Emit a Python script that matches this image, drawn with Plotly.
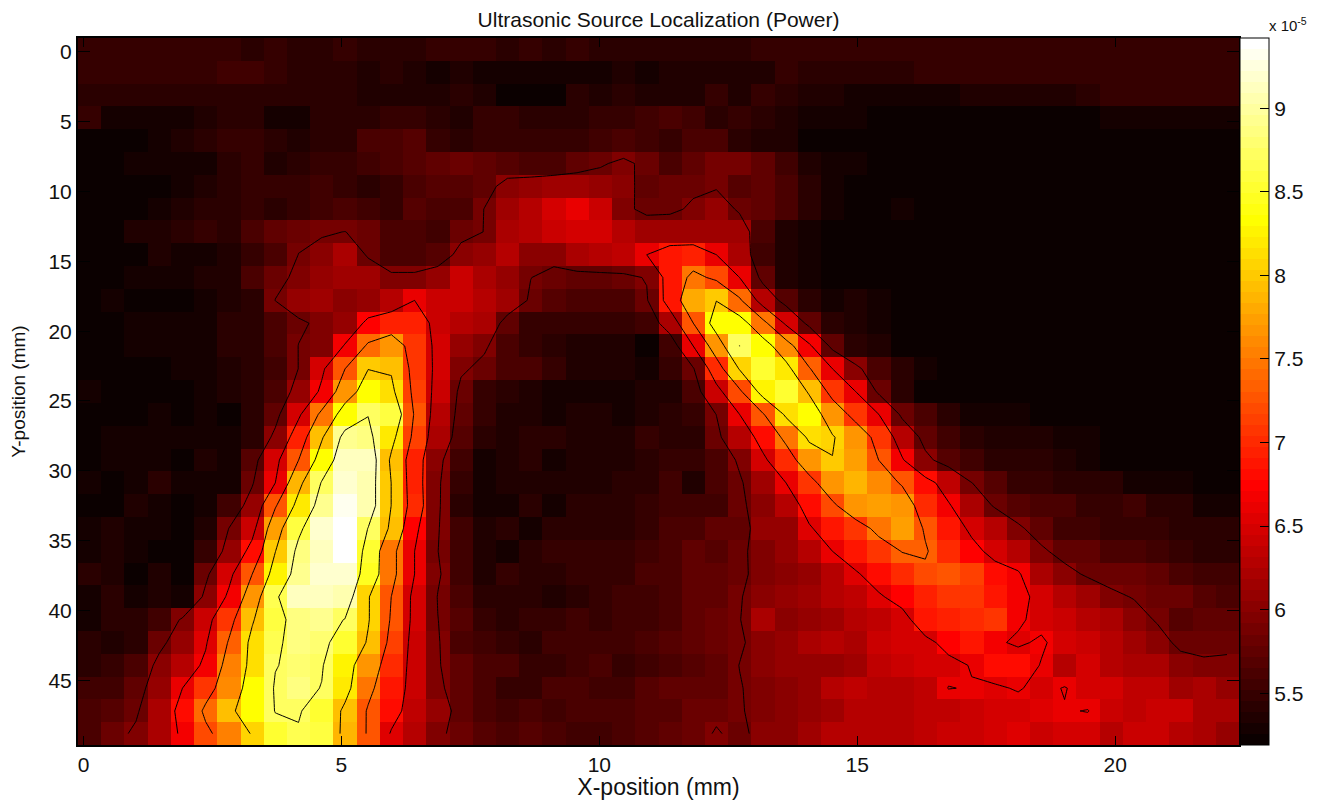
import plotly.graph_objects as go

# Power, in units of 0.01 x 10^-5, one list per row of the scan (top to bottom)
r00 = [549,549,549,552,552,549,546,543,546,544,544,546,540,542,544,549,549,549,544,549,542,549,542,544,539,545,540,544,542,549,549,549,552,549,549,549,549,549,549,549,549,549,549,549,549,549,549,549,549,549]
r01 = [547,547,547,547,547,548,554,554,547,544,542,544,538,544,534,530,538,530,528,528,529,532,528,535,530,538,538,538,538,538,549,544,544,544,544,544,549,549,549,549,549,549,549,549,549,549,549,549,549,549]
r02 = [544,544,544,544,544,544,544,544,544,544,544,542,536,534,534,534,544,538,525,523,525,544,535,540,534,534,534,548,538,548,545,534,534,530,528,528,528,530,535,537,537,537,538,540,549,549,549,549,549,549]
r03 = [549,529,529,529,529,537,544,540,532,532,544,544,544,546,548,542,536,546,548,544,544,544,548,552,554,562,558,540,548,544,536,532,530,528,522,520,522,522,522,522,522,522,522,525,529,529,529,529,529,529]
r04 = [520,520,522,530,538,539,548,549,540,538,544,544,560,565,570,550,545,550,548,548,548,548,558,560,556,548,560,562,540,535,535,525,520,520,520,510,505,505,505,505,505,505,505,508,510,510,510,510,510,512]
r05 = [520,522,527,528,526,532,540,548,535,543,548,548,558,564,570,575,580,578,570,562,565,572,585,598,580,565,575,588,586,575,555,538,530,528,520,510,505,505,505,505,505,505,505,505,505,505,505,505,518,518]
r06 = [520,520,520,525,530,538,544,548,546,548,555,552,540,552,562,569,570,578,600,608,612,615,610,600,578,582,583,586,570,575,560,540,530,522,520,520,520,520,520,520,520,520,520,520,520,520,520,520,520,520]
r07 = [519,519,520,530,538,540,545,548,545,552,556,563,555,548,570,560,565,590,612,627,650,660,640,598,580,582,595,610,584,574,560,540,530,522,519,530,520,519,519,519,519,519,519,519,519,519,519,519,519,519]
r08 = [520,520,535,538,545,548,545,560,578,582,586,590,580,565,560,555,580,590,620,625,640,645,650,630,615,615,615,615,612,560,538,530,518,515,519,519,519,519,519,519,519,519,519,519,519,519,519,519,519,519]
r09 = [520,520,520,535,532,532,535,548,560,590,600,620,585,560,560,570,600,610,625,600,600,620,630,635,660,690,695,660,620,555,535,530,520,519,519,519,519,519,519,519,519,519,519,519,519,519,519,519,519,519]
r10 = [520,520,530,530,530,535,538,560,582,595,605,615,615,598,598,608,640,620,610,590,580,578,578,580,592,690,745,720,660,575,535,530,520,519,519,519,519,519,519,519,519,519,519,519,519,519,519,519,519,519]
r11 = [520,530,520,524,522,526,535,545,590,605,612,600,610,625,660,640,640,630,615,585,570,565,562,560,585,690,780,800,740,630,570,545,530,535,530,520,519,519,519,519,519,519,519,519,519,519,519,519,519,519]
r12 = [520,525,528,528,528,530,540,545,565,585,595,610,675,695,695,640,630,620,575,550,548,548,549,549,554,620,730,830,830,750,650,575,545,538,530,519,519,519,519,519,519,519,519,519,519,519,519,519,519,519]
r13 = [520,522,528,528,528,530,540,545,560,590,595,665,740,765,705,645,610,595,565,550,542,538,538,538,525,555,660,765,872,830,760,670,575,545,535,519,519,519,519,519,519,519,519,519,519,519,519,519,519,519]
r14 = [521,521,525,522,527,530,538,545,555,590,650,730,800,795,710,645,595,580,562,562,548,535,533,533,530,550,585,700,805,850,820,735,660,600,560,540,530,519,519,519,519,519,519,519,519,519,519,519,519,519]
r15 = [528,522,522,522,525,530,535,545,560,605,670,770,830,815,715,640,580,550,540,535,530,530,532,532,536,536,565,640,720,825,855,795,710,660,580,542,522,525,525,519,519,519,519,519,519,519,519,519,519,519]
r16 = [522,522,524,530,522,530,522,545,575,650,745,830,870,860,725,630,575,550,538,535,530,535,535,530,536,540,550,590,660,725,810,835,770,710,660,580,560,545,530,530,530,522,519,519,519,519,519,519,519,519]
r17 = [520,528,528,530,528,528,530,545,600,695,795,890,885,820,715,620,570,545,535,540,540,538,538,538,548,544,544,580,625,680,745,810,805,770,710,630,575,555,545,538,538,538,530,530,525,525,520,520,520,520]
r18 = [520,528,530,530,522,535,530,570,645,730,830,910,915,790,695,600,555,532,538,542,532,537,536,536,540,548,552,564,595,650,700,770,800,775,730,665,600,570,555,545,545,545,535,530,525,525,522,520,520,520]
r19 = [530,522,530,540,530,532,530,585,660,785,875,920,905,800,695,595,550,528,538,538,538,538,538,540,544,554,538,564,585,615,660,710,770,785,760,725,680,635,590,570,550,550,545,545,542,530,530,530,520,525]
r20 = [525,525,535,530,522,530,555,610,725,820,895,935,905,800,700,595,545,527,527,542,530,539,539,542,550,554,558,555,585,600,630,680,720,770,775,765,700,665,620,585,570,565,560,550,550,555,545,540,530,530]
r21 = [530,535,532,528,522,535,590,640,775,860,920,942,870,790,675,592,554,534,542,532,542,540,539,544,550,559,560,576,576,605,610,655,685,705,745,775,725,690,650,630,595,575,555,555,550,550,547,542,542,540]
r22 = [532,535,530,525,525,550,605,680,800,885,915,938,850,750,660,590,558,538,530,542,550,548,549,550,555,562,572,570,585,598,605,630,660,685,705,732,735,700,675,645,630,595,578,575,562,560,558,550,545,542]
r23 = [540,535,525,535,525,580,645,730,825,895,920,920,845,750,660,595,555,538,550,544,542,549,549,550,562,565,572,578,585,597,600,610,630,655,680,700,722,725,715,680,665,620,600,585,580,580,575,560,555,555]
r24 = [530,540,530,535,530,600,670,765,865,910,910,905,805,730,645,588,562,544,544,544,535,542,549,554,558,564,574,572,588,600,605,615,625,635,655,675,695,708,705,690,670,650,630,615,595,588,585,582,570,560]
r25 = [530,544,544,555,595,640,710,795,860,885,890,870,805,725,645,590,568,549,540,549,549,558,549,554,558,564,572,579,588,620,600,610,615,630,635,645,685,695,700,705,665,650,640,630,620,600,587,570,575,572]
r26 = [540,535,545,580,610,655,735,815,865,885,880,855,795,715,640,592,564,555,550,544,554,554,554,556,564,568,572,582,586,600,605,620,625,620,638,645,650,672,685,665,655,665,645,638,630,612,600,583,580,580]
r27 = [544,550,560,600,630,670,755,815,870,880,875,825,765,700,640,592,572,562,560,552,550,556,560,548,555,560,570,575,590,602,605,605,605,615,635,640,650,650,662,682,680,658,630,645,630,620,622,600,595,598]
r28 = [555,555,575,610,660,710,760,830,875,885,870,820,745,690,640,595,576,564,550,546,562,560,556,558,566,572,574,578,588,598,600,610,625,635,630,630,635,661,658,655,663,650,662,645,645,635,635,615,620,610]
r29 = [562,568,585,620,680,740,790,830,873,875,850,790,725,680,635,610,575,565,554,562,554,560,564,564,566,568,580,584,588,595,600,610,615,630,630,630,635,635,640,650,645,655,658,661,642,635,638,638,620,620]
r30 = [562,579,595,620,670,720,755,805,855,868,860,785,725,655,630,595,580,570,562,566,560,556,556,564,569,576,579,592,582,600,600,615,625,625,630,630,635,640,642,645,655,638,650,645,630,638,638,630,620,608]

rows = [r00,r01,r02,r03,r04,r05,r06,r07,r08,r09,r10,r11,r12,r13,r14,r15,
        r16,r17,r18,r19,r20,r21,r22,r23,r24,r25,r26,r27,r28,r29,r30]
power = [[v / 100 for v in row] for row in rows]

x_step, y_step = 0.45, 1.634
x_mm = [-0.106 + x_step * (j + 0.5) for j in range(len(r00))]
y_mm = [-1.0 + y_step * (i + 0.5) for i in range(len(rows))]

x_ticks = [0, 5, 10, 15, 20]
y_ticks = [0, 5, 10, 15, 20, 25, 30, 35, 40, 45]
cbar_ticks = [5.5, 6, 6.5, 7, 7.5, 8, 8.5, 9]
cbar_labels = ["5.5", "6", "6.5", "7", "7.5", "8", "8.5", "9"]

z_min, z_max = 5.19, 9.42
contour_levels = dict(start=5.895, end=8.72, size=0.705)

# MATLAB "hot" with 64 flat steps
hot = []
for k in range(64):
    r = min(1, (k + 1) / 24)
    g = min(1, max(0, (k + 1 - 24) / 24))
    b = max(0, (k + 1 - 48) / 16)
    col = f"rgb({round(r*255)},{round(g*255)},{round(b*255)})"
    hot.append([k / 64, col])
    hot.append([(k + 1) / 64, col])

FONT = "Liberation Sans"
W, H = 1317, 792   # the page's body margin adds 8 px on the top and left
L, R, T, B = 70, 83, 30, 55

fig = go.Figure()
fig.add_trace(go.Heatmap(
    x=x_mm, y=y_mm, z=power, zmin=z_min, zmax=z_max, colorscale=hot, zsmooth=False,
    colorbar=dict(x=1.0005, xanchor="left", xpad=0, y=0.5, yanchor="middle", ypad=0, len=1,
                  thickness=29, outlinecolor="black", outlinewidth=1,
                  tickmode="array", tickvals=cbar_ticks, ticktext=cbar_labels,
                  ticks="inside", ticklen=9, tickcolor="black", tickfont=dict(family=FONT, size=21, color="#111")),
))
fig.add_trace(go.Contour(
    x=x_mm, y=y_mm, z=power, showscale=False, hoverinfo="skip",
    contours=dict(coloring="none", **contour_levels),
    line=dict(color="black", width=1, smoothing=0),
))

axis = dict(showgrid=False, zeroline=False, showline=True, linecolor="black", linewidth=2, automargin=False,
            mirror="ticks", ticks="inside", tickcolor="black", tickmode="array",
            tickfont=dict(family=FONT, size=21, color="#111"))
fig.update_layout(
    width=W, height=H, autosize=False, paper_bgcolor="white", plot_bgcolor="white",
    margin=dict(l=L, r=R, t=T, b=B, pad=0),
    font=dict(family=FONT, color="#111"),
    title=dict(text="Ultrasonic Source Localization (Power)", x=0.5, xref="paper", xanchor="center",
               y=1 - 12 / H, yref="container", yanchor="middle", font=dict(family=FONT, size=21, color="#111")),
    xaxis=dict(axis, range=[-0.106, 22.4], tickvals=x_ticks, ticklen=9,
               title=dict(text="X-position (mm)", font=dict(family=FONT, size=23, color="#111"), standoff=2)),
    yaxis=dict(axis, range=[49.64, -1.0], tickvals=y_ticks, ticklen=12,
               title=dict(text="Y-position (mm)", font=dict(family=FONT, size=19, color="#111"), standoff=20)),
    annotations=[dict(text="x 10<sup>-5</sup>", xref="paper", yref="paper", x=1.024, y=1.0, xanchor="left",
                      yanchor="bottom", yshift=2, showarrow=False, font=dict(family=FONT, size=15, color="#111"))],
)
fig.write_html("out.html")
